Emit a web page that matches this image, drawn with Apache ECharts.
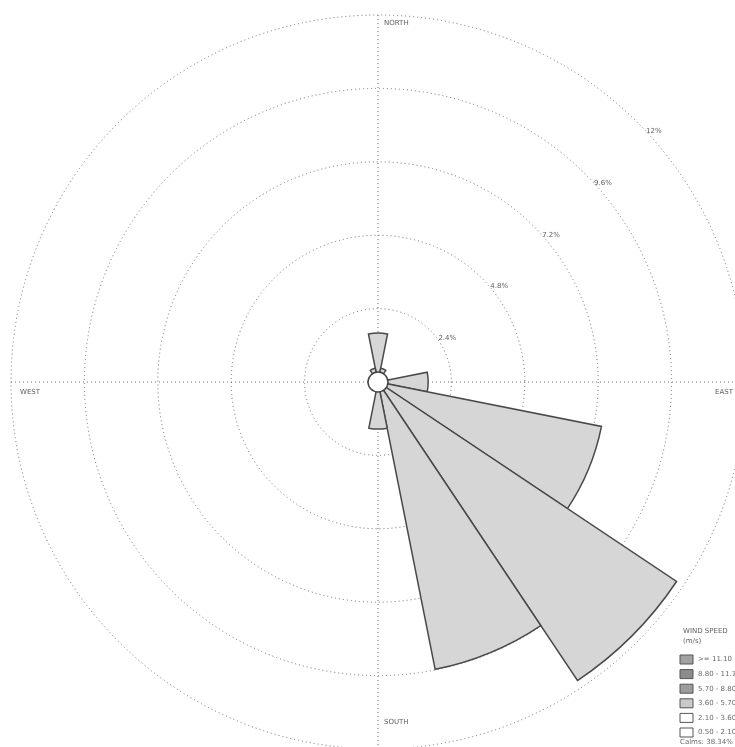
<!DOCTYPE html>
<html>
<head>
<meta charset="utf-8">
<script src="https://cdn.jsdelivr.net/npm/echarts@6/dist/echarts.min.js"></script>
<style>
  html, body { margin: 0; padding: 0; background: #fff; }
  #chart { width: 735px; height: 747px; }
</style>
</head>
<body>
<div id="chart"></div>
<script>
// Wind direction sectors (16 points, clockwise from north)
const directions = ['N', 'NNE', 'NE', 'ENE', 'E', 'ESE', 'SE', 'SSE',
                    'S', 'SSW', 'SW', 'WSW', 'W', 'WNW', 'NW', 'NNW'];
// Frequency of occurrence per sector (%)
const frequency = [1.6, 0.46, 0, 0, 1.64, 7.45, 11.74, 9.58,
                   1.54, 0, 0, 0, 0, 0, 0, 0.46];
// Frequency rings (%)
const ringStep = 2.4;
const ringMax = 12;
// Compass labels
const compass = ['NORTH', 'EAST', 'SOUTH', 'WEST'];
// Wind speed classes (m/s)
const speedClasses = ['>= 11.10', '8.80 - 11.10', '5.70 - 8.80', '3.60 - 5.70', '2.10 - 3.60', '0.50 - 2.10'];
const speedColors = ['#a2a2a2', '#8c8c8c', '#9c9c9c', '#c9c9c9', '#ffffff', '#ffffff'];
const calms = 38.34;

const cx = 378, cy = 382, R = 367;
const dotted = { color: '#6e6e6e', width: 1, type: [1, 3] };

const chart = echarts.init(document.getElementById('chart'), null, { renderer: 'canvas' });

const graphics = [];
// compass labels, placed just inside the outer ring
const compassPos = [
  { x: cx + 6, y: cy - R + 5 },
  { x: cx + R - 30, y: cy + 7 },
  { x: cx + 6, y: cy + R - 30 },
  { x: cx - R + 9, y: cy + 7 }
];
compass.forEach((t, i) => {
  graphics.push({
    type: 'text', z: 10,
    x: compassPos[i].x, y: compassPos[i].y,
    style: { text: t, fill: '#5e5e5e', font: '7px "DejaVu Sans"',
             align: 'left', verticalAlign: 'top' }
  });
});
// calm circle at the centre
graphics.push({
  type: 'circle', z: 20, shape: { cx: cx, cy: cy, r: 10 },
  style: { fill: '#fff', stroke: '#444', lineWidth: 1.5 }
});
// legend
const lx = 680, ly = 628;
graphics.push({ type: 'text', z: 10, x: lx + 3, y: ly,
  style: { text: 'WIND SPEED', fill: '#5e5e5e', font: '7px "DejaVu Sans"' } });
graphics.push({ type: 'text', z: 10, x: lx + 3, y: ly + 10,
  style: { text: '(m/s)', fill: '#5e5e5e', font: '7px "DejaVu Sans"' } });
speedClasses.forEach((t, i) => {
  const y = ly + 27 + i * 14.6;
  graphics.push({ type: 'rect', z: 10, shape: { x: lx, y: y, width: 13, height: 9 },
    style: { fill: speedColors[i], stroke: '#555', lineWidth: 1 } });
  graphics.push({ type: 'text', z: 10, x: lx + 18, y: y + 1,
    style: { text: t, fill: '#6a6a6a', font: '7px "DejaVu Sans"' } });
});
graphics.push({ type: 'text', z: 10, x: lx, y: ly + 111,
  style: { text: 'Calms: ' + calms.toFixed(2) + '%', fill: '#6a6a6a', font: '7px "DejaVu Sans"' } });

const option = {
  backgroundColor: '#fff',
  animation: false,
  polar: [
    { center: [cx, cy], radius: R },
    { center: [cx, cy], radius: R },
    { center: [cx, cy], radius: R }
  ],
  angleAxis: [
    // compass cross lines
    { polarIndex: 0, type: 'value', min: 0, max: 360, interval: 90, startAngle: 90,
      axisLine: { show: false }, axisTick: { show: false }, axisLabel: { show: false },
      splitLine: { show: true, lineStyle: dotted } },
    // carries the ring labels on the NE diagonal
    { polarIndex: 1, type: 'value', min: 0, max: 360, startAngle: 45,
      axisLine: { show: false }, axisTick: { show: false }, axisLabel: { show: false },
      splitLine: { show: false } },
    // direction sectors
    { polarIndex: 2, type: 'category', data: directions, startAngle: 90 + 11.25,
      boundaryGap: true,
      axisLine: { show: false }, axisTick: { show: false }, axisLabel: { show: false },
      splitLine: { show: false } }
  ],
  radiusAxis: [
    { polarIndex: 0, type: 'value', min: 0, max: ringMax, interval: ringStep,
      axisLine: { show: false }, axisTick: { show: false }, axisLabel: { show: false },
      splitLine: { show: true, lineStyle: dotted } },
    { polarIndex: 1, type: 'value', min: 0, max: ringMax, interval: ringStep,
      axisLine: { show: false }, axisTick: { show: false }, splitLine: { show: false },
      axisLabel: { show: true, color: '#5e5e5e', fontSize: 7, fontFamily: 'DejaVu Sans',
        margin: -12, align: 'left', verticalAlign: 'middle', showMinLabel: false,
        formatter: v => (Math.round(v * 10) / 10) + '%' } },
    { polarIndex: 2, type: 'value', min: 0, max: ringMax,
      axisLine: { show: false }, axisTick: { show: false }, axisLabel: { show: false },
      splitLine: { show: false } }
  ],
  series: [{
    type: 'bar',
    coordinateSystem: 'polar',
    polarIndex: 2,
    data: frequency,
    barCategoryGap: '0%',
    itemStyle: { color: '#d6d6d6', borderColor: '#4a4a4a', borderWidth: 1.5 },
    z: 5
  }],
  graphic: graphics
};
chart.setOption(option);
</script>
</body>
</html>
